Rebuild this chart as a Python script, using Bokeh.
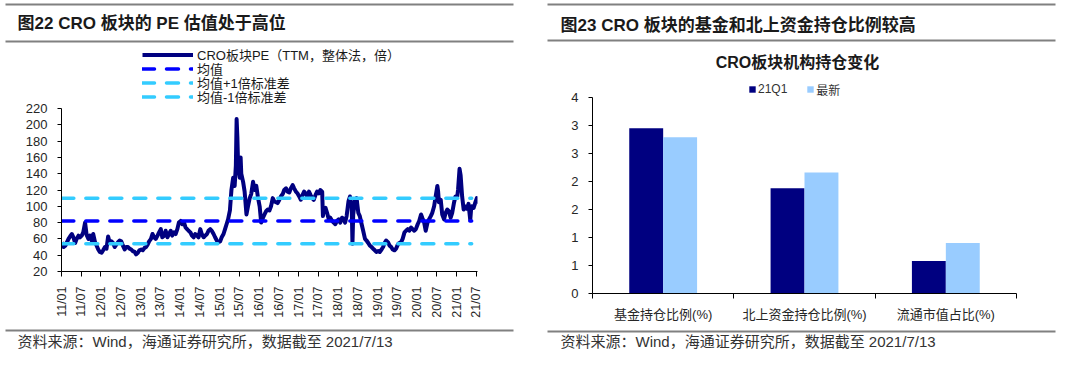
import numpy as np
import pandas as pd
from bokeh.plotting import figure
from bokeh.models import (Range1d, FixedTicker, DatetimeTickFormatter, Legend,
                          LegendItem, ColumnDataSource)
from bokeh.layouts import row, column
from bokeh.embed import file_html
from bokeh.resources import INLINE
from bokeh.core.properties import value

FONT = "Liberation Sans, Noto Sans CJK SC"

left_title = "图22 CRO 板块的 PE 估值处于高位"
right_title = "图23 CRO 板块的基金和北上资金持仓比例较高"
right_chart_title = "CRO板块机构持仓变化"
source_note = "资料来源：Wind，海通证券研究所，数据截至 2021/7/13"

pe_label = "CRO板块PE（TTM，整体法，倍）"
band_labels = ["均值", "均值+1倍标准差", "均值-1倍标准差"]
pe_dates = [
    "2011-01-07", "2011-01-21", "2011-02-07", "2011-02-21", "2011-03-07", "2011-03-21",
    "2011-04-07", "2011-04-21", "2011-05-07", "2011-05-21", "2011-06-07", "2011-06-21",
    "2011-07-07", "2011-07-21", "2011-08-07", "2011-08-21", "2011-09-07", "2011-09-21",
    "2011-10-07", "2011-10-21", "2011-11-07", "2011-11-21", "2011-12-07", "2011-12-21",
    "2012-01-07", "2012-01-21", "2012-02-07", "2012-02-21", "2012-03-07", "2012-03-21",
    "2012-04-07", "2012-04-21", "2012-05-07", "2012-05-21", "2012-06-07", "2012-06-21",
    "2012-07-07", "2012-07-21", "2012-08-07", "2012-08-21", "2012-09-07", "2012-09-21",
    "2012-10-07", "2012-10-21", "2012-11-07", "2012-11-21", "2012-12-07", "2012-12-21",
    "2013-01-07", "2013-01-21", "2013-02-07", "2013-02-21", "2013-03-07", "2013-03-21",
    "2013-04-07", "2013-04-21", "2013-05-07", "2013-05-21", "2013-06-07", "2013-06-21",
    "2013-07-07", "2013-07-21", "2013-08-07", "2013-08-21", "2013-09-07", "2013-09-21",
    "2013-10-07", "2013-10-21", "2013-11-07", "2013-11-21", "2013-12-07", "2013-12-21",
    "2014-01-07", "2014-01-21", "2014-02-07", "2014-02-21", "2014-03-07", "2014-03-21",
    "2014-04-07", "2014-04-21", "2014-05-07", "2014-05-21", "2014-06-07", "2014-06-21",
    "2014-07-07", "2014-07-21", "2014-08-07", "2014-08-21", "2014-09-07", "2014-09-21",
    "2014-10-07", "2014-10-21", "2014-11-07", "2014-11-21", "2014-12-07", "2014-12-21",
    "2015-01-07", "2015-01-21", "2015-02-07", "2015-02-21", "2015-03-07", "2015-03-21",
    "2015-04-07", "2015-04-21", "2015-05-07", "2015-05-21", "2015-06-01", "2015-06-08",
    "2015-06-15", "2015-06-22", "2015-07-07", "2015-07-15", "2015-07-21", "2015-08-07",
    "2015-08-21", "2015-09-07", "2015-09-21", "2015-10-07", "2015-10-21", "2015-11-07",
    "2015-11-21", "2015-12-07", "2015-12-21",
    "2016-01-07", "2016-01-21", "2016-02-07", "2016-02-21", "2016-03-07", "2016-03-21",
    "2016-04-07", "2016-04-21", "2016-05-07", "2016-05-21", "2016-06-07", "2016-06-21",
    "2016-07-07", "2016-07-21", "2016-08-07", "2016-08-21", "2016-09-07", "2016-09-21",
    "2016-10-07", "2016-10-21", "2016-11-07", "2016-11-21", "2016-12-07", "2016-12-21",
    "2017-01-07", "2017-01-21", "2017-02-07", "2017-02-21", "2017-03-07", "2017-03-21",
    "2017-04-07", "2017-04-21", "2017-05-07", "2017-05-21", "2017-06-07", "2017-06-21",
    "2017-07-07", "2017-07-21", "2017-08-07", "2017-08-14", "2017-08-21", "2017-09-07",
    "2017-09-21", "2017-10-07", "2017-10-21", "2017-11-07", "2017-11-21", "2017-12-07",
    "2017-12-21",
    "2018-01-07", "2018-01-21", "2018-02-07", "2018-02-21", "2018-03-07", "2018-03-21",
    "2018-04-07", "2018-04-21", "2018-05-07", "2018-05-14", "2018-05-21", "2018-06-07",
    "2018-06-21", "2018-07-07", "2018-07-21", "2018-08-07", "2018-08-21", "2018-09-07",
    "2018-09-21", "2018-10-07", "2018-10-21", "2018-11-07", "2018-11-21", "2018-12-07",
    "2018-12-21",
    "2019-01-07", "2019-01-21", "2019-02-07", "2019-02-21", "2019-03-07", "2019-03-21",
    "2019-04-07", "2019-04-21", "2019-05-07", "2019-05-21", "2019-06-07", "2019-06-21",
    "2019-07-07", "2019-07-21", "2019-08-07", "2019-08-21", "2019-09-07", "2019-09-21",
    "2019-10-07", "2019-10-21", "2019-11-07", "2019-11-21", "2019-12-07", "2019-12-21",
    "2020-01-07", "2020-01-21", "2020-02-07", "2020-02-21", "2020-03-07", "2020-03-21",
    "2020-04-07", "2020-04-21", "2020-05-07", "2020-05-21", "2020-06-07", "2020-06-21",
    "2020-07-07", "2020-07-14", "2020-07-21", "2020-08-07", "2020-08-21", "2020-09-07",
    "2020-09-21", "2020-10-07", "2020-10-21", "2020-11-07", "2020-11-21", "2020-12-07",
    "2020-12-21",
    "2021-01-07", "2021-01-14", "2021-01-28", "2021-02-07", "2021-02-21", "2021-03-07",
    "2021-03-21", "2021-04-07", "2021-04-21", "2021-05-07", "2021-05-14", "2021-05-21",
    "2021-06-07", "2021-06-21", "2021-07-07", "2021-07-13",
]
pe_values = [
    56, 50, 52, 56, 60, 63, 66, 62, 55, 60, 64, 62,
    64, 68, 80, 65, 60, 64, 58, 66, 56, 52, 47, 44,
    43, 46, 50, 48, 63, 56, 57, 55, 50, 53, 56, 58,
    57, 52, 47, 50, 50, 48, 47, 45, 44, 41, 43, 46,
    47, 46, 49, 50, 53, 57, 60, 66, 62, 60, 64, 68,
    72, 62, 64, 70, 62, 66, 70, 64, 68, 66, 72, 80,
    82, 78, 80, 74, 72, 70, 68, 64, 62, 66, 64, 62,
    72, 66, 62, 64, 66, 70, 72, 70, 66, 62, 58, 56,
    57, 62, 66, 72, 78, 84, 95, 120, 135, 125, 150, 207,
    185, 150, 135, 160, 140, 130, 118, 90, 100, 110, 115, 130,
    120, 125, 112,
    100, 80, 86, 90, 94, 96, 95, 100, 110, 106, 105, 104,
    108, 112, 115, 120, 122, 118, 117, 122, 126, 122, 118, 116,
    112, 108, 114, 118, 116, 112, 118, 114, 110, 108, 114, 118,
    116, 120, 118, 88, 96, 98, 92, 84, 86, 82, 80, 78,
    82,
    84, 80, 86, 84, 80, 88, 106, 112, 100, 54, 90, 108,
    110, 92, 88, 78, 70, 60, 58, 55, 52, 50, 48, 46,
    44,
    45, 44, 47, 50, 55, 58, 56, 52, 50, 47, 46, 48,
    53, 55, 56, 60, 68, 70, 72, 70, 74, 72, 70, 72,
    78, 82, 90, 85, 80, 70, 80, 84, 88, 92, 100, 112,
    125, 118, 105, 108, 90, 84, 92, 96, 94, 86, 92, 104,
    112,
    112, 120, 146, 138, 112, 96, 100, 97, 103, 83, 95, 100,
    98, 104, 110, 103,
]
band_dates = ["2011-01-04", "2021-05-20"]
mean_value = 82
plus1_value = 110
minus1_value = 54
x_tick_dates = [
    "2011-01-01", "2011-07-01", "2012-01-01", "2012-07-01", "2013-01-01", "2013-07-01",
    "2014-01-01", "2014-07-01", "2015-01-01", "2015-07-01", "2016-01-01", "2016-07-01",
    "2017-01-01", "2017-07-01", "2018-01-01", "2018-07-01", "2019-01-01", "2019-07-01",
    "2020-01-01", "2020-07-01", "2021-01-01", "2021-07-01",
]
y_ticks_left = [20, 40, 60, 80, 100, 120, 140, 160, 180, 200, 220]

categories = ["基金持仓比例(%)", "北上资金持仓比例(%)", "流通市值占比(%)"]
series_names = ["21Q1", "最新"]
q1_values = [2.95, 1.88, 0.58]
latest_values = [2.79, 2.16, 0.90]
y_ticks_right = [0, 0.5, 1, 1.5, 2, 2.5, 3, 3.5]
y_tick_labels_right = ["0", "1", "1", "2", "2", "3", "3", "4"]

NAVY = "#000080"
BLUE = "#0000ff"
CYAN = "#33ccff"
LIGHT = "#99ccff"
RULE = "#808080"


def blank(width, height):
    f = figure(width=width, height=height, x_range=Range1d(0, width),
               y_range=Range1d(height, 0), min_border=0,
               min_border_left=0, min_border_right=0, min_border_top=0, min_border_bottom=0,
               toolbar_location=None, output_backend="svg",
               x_axis_location=None, y_axis_location=None, frame_align=False)
    f.outline_line_color = None
    f.xgrid.visible = False
    f.ygrid.visible = False
    return f


def style_axes(p):
    for ax in p.axis:
        ax.axis_line_color = "black"
        ax.major_tick_line_color = "black"
        ax.minor_tick_line_color = None
        ax.major_label_text_font = FONT
        ax.major_label_text_color = "#262626"
    p.xgrid.visible = False
    p.ygrid.visible = False
    p.outline_line_color = None


# ================= LEFT PANEL (x 0..532) =================
h1 = blank(532, 46)
h1.segment(x0=[5], y0=[4], x1=[513], y1=[4], line_color=RULE, line_width=2)
h1.text(x=[17], y=[23], text=[left_title], text_font=value(FONT), text_font_size="17px",
        text_font_style="bold", text_baseline="middle", text_color="#1a1a1a")
h1.segment(x0=[5], y0=[41], x1=[513], y1=[41], line_color=RULE, line_width=2)

dates = pd.to_datetime(pe_dates)
bd = pd.to_datetime(band_dates)
# frame: page y 46..271 ; value 220 sits at y 108, value 20 at y 271
p1 = figure(width=532, height=280, x_axis_type="datetime",
            x_range=Range1d(pd.Timestamp("2011-01-01"), pd.Timestamp("2021-07-13")),
            y_range=Range1d(20, 20 + 200 * (271 - 46) / (271 - 108)),
            min_border_left=61, min_border_right=55, min_border_top=0, min_border_bottom=55,
            toolbar_location=None, output_backend="svg", frame_align=False)
r_pe = p1.line(dates, pe_values, line_color=NAVY, line_width=4, line_join="round")
r_mean = p1.line(bd, [mean_value, mean_value], line_color=BLUE, line_width=3.5,
                 line_dash="12 12", line_cap="round")
r_up = p1.line(bd, [plus1_value, plus1_value], line_color=CYAN, line_width=3.5,
               line_dash="12 12", line_cap="round")
r_dn = p1.line(bd, [minus1_value, minus1_value], line_color=CYAN, line_width=3.5,
               line_dash="12 12", line_cap="round")
style_axes(p1)
tick_ms = [pd.Timestamp(d).timestamp() * 1000 for d in x_tick_dates]
p1.xaxis.ticker = FixedTicker(ticks=tick_ms)
p1.xaxis.formatter = DatetimeTickFormatter(days="%y/%m", months="%y/%m", years="%y/%m")
p1.xaxis.major_label_orientation = np.pi / 2
p1.xaxis.major_label_text_font_size = "12.5px"
p1.xaxis.major_tick_out = 5
p1.xaxis.major_tick_in = 0
p1.xaxis.major_label_standoff = 10
p1.yaxis.ticker = FixedTicker(ticks=y_ticks_left)
p1.yaxis.bounds = (20, 220)
p1.yaxis.major_label_text_font_size = "13px"
p1.yaxis.major_tick_out = 4
p1.yaxis.major_tick_in = 0
p1.yaxis.major_label_standoff = 10

# one single-row legend per entry so that the row pitch matches the reference
legend_rows = [(pe_label, r_pe, 55), (band_labels[0], r_mean, 69),
               (band_labels[1], r_up, 83), (band_labels[2], r_dn, 96.5)]
for lbl, rend, yc in legend_rows:
    lg = Legend(items=[LegendItem(label=lbl, renderers=[rend])],
                location=(81, 271 - yc - 9), orientation="vertical",
                glyph_width=51, glyph_height=13, label_height=13, spacing=0,
                padding=0, margin=0, label_standoff=4,
                label_text_font=FONT, label_text_font_size="13px",
                label_text_color="#1a1a1a",
                background_fill_alpha=0, border_line_color=None)
    p1.add_layout(lg)

f1 = blank(532, 23)
f1.segment(x0=[5], y0=[4], x1=[513], y1=[4], line_color=RULE, line_width=2)
f1.text(x=[17], y=[15], text=[source_note], text_font=value(FONT), text_font_size="15px",
        text_baseline="middle", text_color="#333333")

# ================= RIGHT PANEL (x 532..1064) =================
h2 = blank(532, 72)
h2.segment(x0=[15], y0=[4], x1=[523], y1=[4], line_color=RULE, line_width=2)
h2.text(x=[28], y=[25], text=[right_title], text_font=value(FONT), text_font_size="17px",
        text_font_style="bold", text_baseline="middle", text_color="#1a1a1a")
h2.segment(x0=[15], y0=[40], x1=[523], y1=[40], line_color=RULE, line_width=2)
h2.text(x=[265], y=[62], text=[right_chart_title], text_font=value(FONT),
        text_font_size="16px", text_font_style="bold", text_align="center",
        text_baseline="middle", text_color="#1a1a1a")

idx = np.arange(len(categories))
src = ColumnDataSource(dict(x_q1=idx + 0.5 - 0.12, x_new=idx + 0.5 + 0.12,
                            q1=q1_values, new=latest_values))
# frame: page y 72..293 ; value 3.5 at y 97, value 0 at y 293
p2 = figure(width=532, height=254, x_range=Range1d(0, len(categories)),
            y_range=Range1d(0, 3.5 * (293 - 72) / (293 - 97)),
            min_border_left=60, min_border_right=48, min_border_top=0, min_border_bottom=33,
            toolbar_location=None, output_backend="svg", frame_align=False)
r_q1 = p2.vbar(x="x_q1", top="q1", width=0.24, source=src, fill_color=NAVY,
               line_color=None)
r_new = p2.vbar(x="x_new", top="new", width=0.24, source=src, fill_color=LIGHT,
                line_color=None)
style_axes(p2)
p2.xaxis.ticker = FixedTicker(ticks=list(idx + 0.5), minor_ticks=list(range(len(categories) + 1)))
p2.xaxis.major_label_overrides = {float(i + 0.5): c for i, c in enumerate(categories)}
p2.xaxis.major_tick_out = 0
p2.xaxis.major_tick_in = 0
p2.xaxis.minor_tick_line_color = "black"
p2.xaxis.minor_tick_out = 5
p2.xaxis.minor_tick_in = 0
p2.xaxis.major_label_text_font_size = "13px"
p2.xaxis.major_label_standoff = 8
p2.yaxis.ticker = FixedTicker(ticks=y_ticks_right)
p2.yaxis.bounds = (0, 3.5)
p2.yaxis.major_label_overrides = {float(t): l for t, l in zip(y_ticks_right, y_tick_labels_right)}
p2.yaxis.major_label_text_font_size = "13px"
p2.yaxis.major_tick_out = 4
p2.yaxis.major_tick_in = 0
p2.yaxis.major_label_standoff = 10

leg2 = Legend(items=[LegendItem(label=series_names[0], renderers=[r_q1]),
                     LegendItem(label=series_names[1], renderers=[r_new])],
              location=(156, 293 - 89 - 8.5), orientation="horizontal",
              glyph_width=8, glyph_height=8, label_height=12, spacing=19,
              padding=0, margin=0, label_standoff=2,
              label_text_font=FONT, label_text_font_size="12px",
              label_text_color="#333333",
              background_fill_alpha=0, border_line_color=None)
p2.add_layout(leg2)

f2 = blank(532, 23)
f2.segment(x0=[15], y0=[5], x1=[523], y1=[5], line_color=RULE, line_width=2)
f2.text(x=[28], y=[15], text=[source_note], text_font=value(FONT), text_font_size="15px",
        text_baseline="middle", text_color="#333333")

layout = row(column(h1, p1, f1, spacing=0), column(h2, p2, f2, spacing=0), spacing=0)

open("out.html", "w").write(file_html(layout, INLINE))
